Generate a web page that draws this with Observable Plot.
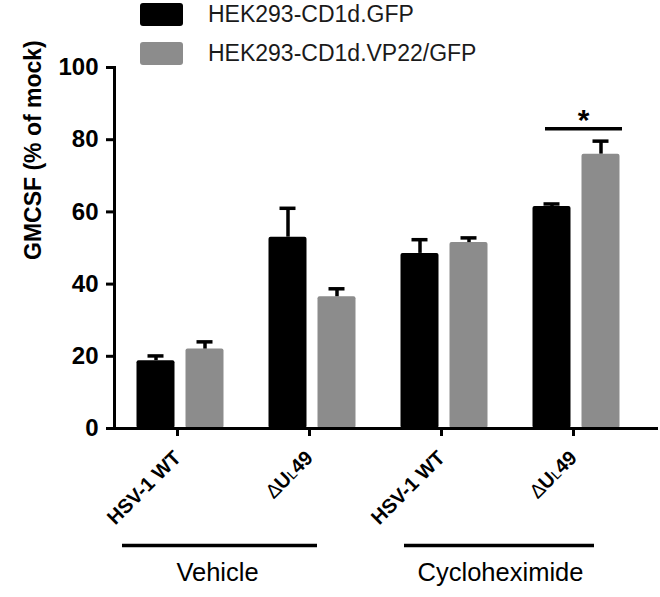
<!DOCTYPE html>
<html><head><meta charset="utf-8">
<script src="https://cdn.jsdelivr.net/npm/d3@7"></script>
<script src="https://cdn.jsdelivr.net/npm/@observablehq/plot@0.6"></script>
<style>
body{margin:0;background:#fff;font-family:"Liberation Sans",Arial,sans-serif;}
#wrap{position:relative;width:660px;height:597px;}
#legend{position:absolute;left:140px;top:3px;z-index:2;}
.row{display:flex;align-items:center;height:23px;margin-bottom:16px;font-size:23px;color:#1a1a1a;white-space:nowrap}
.sw{width:43px;height:23px;border-radius:3px;margin-right:25px}
</style></head><body>
<div id="wrap"><div id="legend"></div><div id="chart"></div></div>
<script>
// ---- data ----
const groups = ["HSV-1 WT|Vehicle", "ΔUL49|Vehicle", "HSV-1 WT|Cycloheximide", "ΔUL49|Cycloheximide"];
const treatments = ["Vehicle", "Cycloheximide"];
const series = ["HEK293-CD1d.GFP", "HEK293-CD1d.VP22/GFP"];
const seriesColors = ["#000000", "#8c8c8c"];
const gfpValues = [18.8, 53, 48.5, 61.5];
const gfpErrors = [1.3, 8, 3.8, 0.7];
const vp22Values = [22, 36.5, 51.5, 76];
const vp22Errors = [2, 2.2, 1.3, 3.6];
const yTicks = [0, 20, 40, 60, 80, 100];
const yLabel = ["GMCSF (% of mock)"];
const sigMarks = [{group: groups[3], y: 83, label: "*"}];
const brackets = [
  {name: treatments[0], from: groups[0], to: groups[1]},
  {name: treatments[1], from: groups[2], to: groups[3]}
];

// ---- table ----
const gfp = groups.map((g, i) => ({group: g, value: gfpValues[i], err: gfpErrors[i]}));
const vp22 = groups.map((g, i) => ({group: g, value: vp22Values[i], err: vp22Errors[i]}));

// legend
const legend = document.getElementById("legend");
series.forEach((s, i) => {
  const row = document.createElement("div");
  row.className = "row";
  row.innerHTML = `<div class="sw" style="background:${seriesColors[i]}"></div><span>${s}</span>`;
  legend.appendChild(row);
});

const off = 24.5;
const barInset = 47;
const capInset = 58;
const barMarks = (data, color, dx) => [
  Plot.barY(data, {x: "group", y: "value", fill: color, dx, insetLeft: barInset, insetRight: barInset, rx: 2}),
  Plot.ruleX(data, {x: "group", y1: "value", y2: d => d.value + d.err, dx, stroke: "#000", strokeWidth: 3.5}),
  Plot.tickY(data, {x: "group", y: d => d.value + d.err, dx, stroke: "#000", strokeWidth: 3.5, insetLeft: capInset, insetRight: capInset})
];

const chart = Plot.plot({
  width: 660,
  height: 597,
  marginLeft: 114,
  marginRight: 2,
  marginTop: 67,
  marginBottom: 169,
  style: {fontFamily: "'Liberation Sans', Arial, sans-serif", color: "#000", background: "#fff"},
  x: {domain: groups, paddingInner: 0, paddingOuter: 0.06, align: 0},
  y: {domain: [0, 100]},
  marks: [
    ...barMarks(gfp, seriesColors[0], -off),
    ...barMarks(vp22, seriesColors[1], off),
    Plot.frame({anchor: "left", strokeWidth: 3}),
    Plot.ruleY([0], {strokeWidth: 3}),
    Plot.axisY({ticks: yTicks, tickSize: 8, tickPadding: 8, strokeWidth: 3, fontSize: 24, fontWeight: "bold", label: null}),
    Plot.axisX({tickSize: 8, tickPadding: 18, tickRotate: -45, strokeWidth: 3, fontSize: 20, fontWeight: "bold", label: null, dx: -3, tickFormat: d => d.split("|")[0]}),
    Plot.text(yLabel, {text: d => d, frameAnchor: "left", rotate: -90, dx: -81, dy: 12, fontSize: 23, fontWeight: "bold"}),
    Plot.ruleY(brackets.slice(0, 1), {x1: "from", x2: "to", y: () => 0, dy: 117, insetLeft: 8, insetRight: 61, strokeWidth: 3.5}),
    Plot.ruleY(brackets.slice(1, 2), {x1: "from", x2: "to", y: () => 0, dy: 117, insetLeft: 26, insetRight: 48, strokeWidth: 3.5}),
    Plot.text(brackets.slice(0, 1), {x: "from", text: "name", frameAnchor: "bottom", dy: 152, dx: 37, fontSize: 25.5}),
    Plot.text(brackets.slice(1, 2), {x: "from", text: "name", frameAnchor: "bottom", dy: 152, dx: 56, fontSize: 25.5}),
    Plot.ruleY(sigMarks, {x1: "group", x2: "group", y: "y", insetLeft: 35, insetRight: 20, strokeWidth: 3.5}),
    Plot.text(sigMarks, {x: "group", y: "y", text: "label", dx: 7, dy: -8, fontSize: 30, fontWeight: "bold"})
  ]
});
document.getElementById("chart").appendChild(chart);

// subscript L and thin delta in ΔUL49 labels
chart.querySelectorAll("text").forEach(t => {
  if (t.textContent === "ΔUL49") {
    t.innerHTML = '<tspan font-weight="normal">∆</tspan>U<tspan font-size="70%" font-weight="normal">L</tspan>49';
  }
});
</script>
</body></html>
